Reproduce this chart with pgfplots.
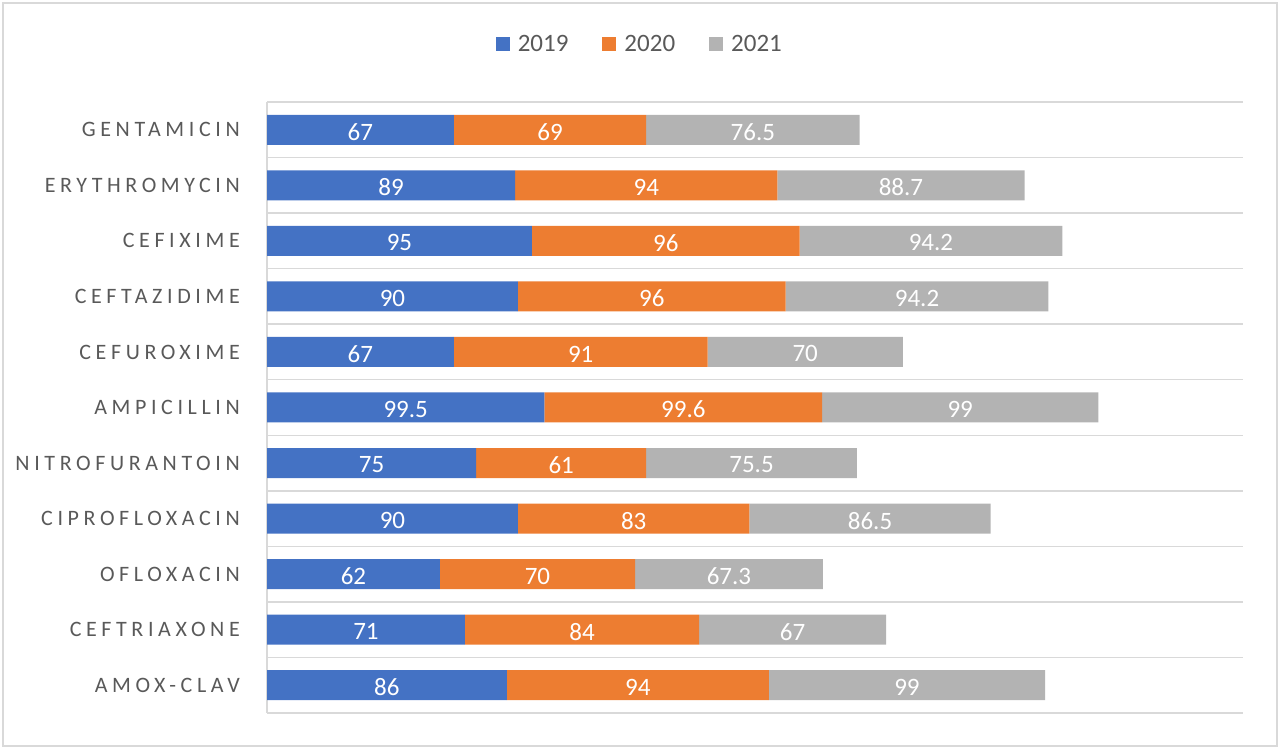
\documentclass[border=0pt]{standalone}
\usepackage{fontspec}
\setmainfont{Carlito}
\newfontfamily\catfont[LetterSpace=21]{Carlito}
\usepackage{pgfplots}
\pgfplotsset{compat=1.18}
\usepackage{pgfplotstable}
\definecolor{c19}{HTML}{4472C4}
\definecolor{c20}{HTML}{ED7D31}
\definecolor{c21}{HTML}{B3B3B3}
\definecolor{gridc}{HTML}{D9D9D9}
\definecolor{txt}{HTML}{595959}

% rows from bottom (AMOX-CLAV) to top (GENTAMICIN)
\pgfplotstableread{
idx a b c
0 86 94 99
1 71 84 67
2 62 70 67.3
3 90 83 86.5
4 75 61 75.5
5 99.5 99.6 99
6 67 91 70
7 90 96 94.2
8 95 96 94.2
9 89 94 88.7
10 67 69 76.5
}\res

\begin{document}
\begin{tikzpicture}
\useasboundingbox (0,0) rectangle (1280pt,749pt);
\draw[gridc, line width=1.5pt] (3pt,3pt) rectangle (1277pt,746pt);
\begin{axis}[
  at={(267pt,36pt)}, anchor=south west,
  width=976pt, height=611pt, scale only axis,
  xbar stacked, bar width=30pt, clip=false,
  xmin=0, xmax=350, ymin=-0.5, ymax=10.5,
  axis x line=none, axis y line*=left,
  y axis line style={gridc, line width=1.5pt, -},
  ytick={0,...,10},
  yticklabels={AMOX-CLAV, CEFTRIAXONE, OFLOXACIN, CIPROFLOXACIN, NITROFURANTOIN, AMPICILLIN, CEFUROXIME, CEFTAZIDIME, CEFIXIME, ERYTHROMYCIN, GENTAMICIN},
  yticklabel style={font=\catfont\fontsize{22}{26}\selectfont, text=txt, inner sep=0pt, xshift=-27pt},
  major tick length=0pt, minor tick length=0pt,
  minor ytick={-0.5,0.5,...,10.5},
  yminorgrids, minor grid style={gridc, line width=1.5pt},
  /pgf/number format/.cd, fixed, precision=1, assume math mode=true, /pgfplots/.cd,
  nodes near coords={\pgfmathprintnumber{\rawx}},
  every node near coord/.append style={anchor=center, yshift=-2pt,
    font=\fontsize{25}{30}\selectfont, text=white},
  legend image code/.code={\fill[#1] (0pt,-7pt) rectangle (14pt,7pt);},
  legend columns=3, legend cell align=left,
  legend style={at={(0.382,1.095)}, anchor=center, draw=none, fill=none,
    font=\fontsize{25}{30}\selectfont, text=txt,
    /tikz/every odd column/.append style={column sep=6pt},
    /tikz/every even column/.append style={column sep=32pt}},
]
\addplot[fill=c19, draw=none, visualization depends on=rawx \as \rawx] table[x=a, y=idx] {\res};
\addplot[fill=c20, draw=none, visualization depends on=rawx \as \rawx] table[x=b, y=idx] {\res};
\addplot[fill=c21, draw=none, visualization depends on=rawx \as \rawx] table[x=c, y=idx] {\res};
\legend{2019, 2020, 2021}
\end{axis}
\end{tikzpicture}
\end{document}
